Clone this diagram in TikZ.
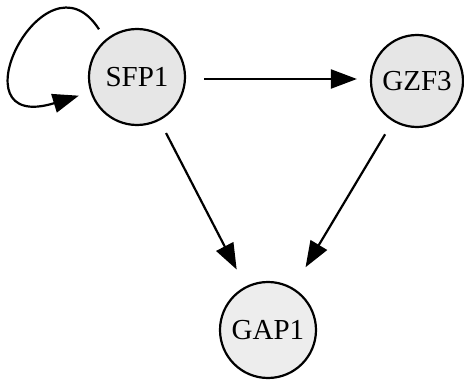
\documentclass[tikz,border=0pt]{standalone}
\usepackage{fontspec}
\setmainfont{Liberation Serif}
\usetikzlibrary{arrows.meta}
\definecolor{nodefill}{RGB}{230,230,230}
\definecolor{nodefillb}{RGB}{237,237,237}
\begin{document}
\begin{tikzpicture}[x=1pt,y=-1pt,
  gene/.style={circle,draw=black,line width=2.2pt,fill=nodefill,inner sep=0pt,font=\fontsize{29}{32}\selectfont},
  edge/.style={line width=2.2pt,-{Triangle[length=26pt,width=19pt]}}]
\useasboundingbox (0,0) rectangle (464,380);
\node[gene,minimum size=96pt] (s) at (137,77) {SFP1};
\node[gene,minimum size=92pt] (g) at (417,81) {GZF3};
\node[gene,minimum size=96pt,fill=nodefillb] (a) at (268,330) {GAP1};
\draw[edge,shorten <=18pt,shorten >=13pt] (s.east |- 0,79) -- (g.west |- 0,79);
\draw[edge,shorten <=14pt,shorten >=19pt] (s) -- (a);
\draw[edge,shorten <=15pt,shorten >=24pt] (g) -- (a);
\draw[edge,shorten <=12pt,shorten >=12pt] (s.130) .. controls (45,-55) and (-50,135) .. (s.198);
\end{tikzpicture}
\end{document}
